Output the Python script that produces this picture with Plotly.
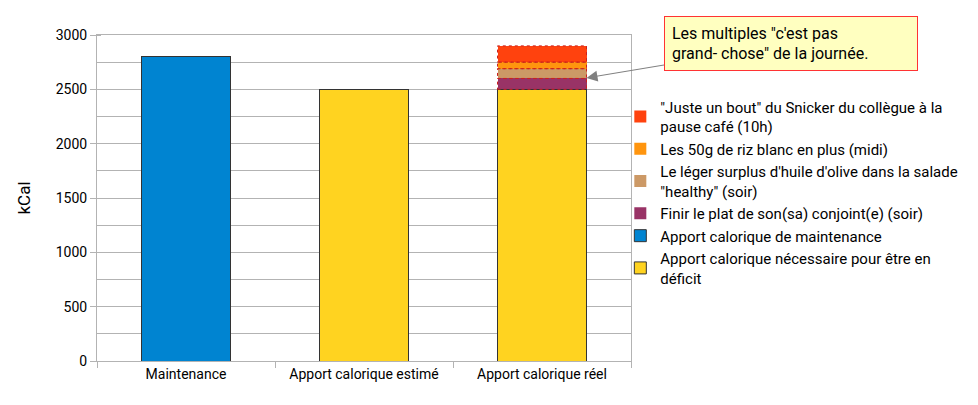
import plotly.graph_objects as go

categories = ['Maintenance', 'Apport calorique estimé', 'Apport calorique réel']

maintenance = [2800, None, None]
deficit = [None, 2500, 2500]

# petits extras de la journée (seulement sur "réel")
extras_names = [
    'Finir le plat de son(sa) conjoint(e) (soir)',
    'Le léger surplus d\'huile d\'olive dans la salade<br>"healthy" (soir)',
    'Les 50g de riz blanc en plus (midi)',
    '"Juste un bout" du Snicker du collègue à la<br>pause café (10h)',
]
extras_values = [100, 90, 60, 150]
extras_colors = ['#993366', '#cc9966', '#ff950e', '#ff420e']

font = 'Roboto'

fig = go.Figure()
fig.add_trace(go.Bar(x=categories, y=deficit,
                     name='Apport calorique nécessaire pour être en<br>déficit',
                     marker=dict(color='#ffd320', line=dict(color='#333333', width=1))))
fig.add_trace(go.Bar(x=categories, y=maintenance,
                     name='Apport calorique de maintenance',
                     marker=dict(color='#0084d1', line=dict(color='#333333', width=1))))

base = deficit[2]
for name, val, col in zip(extras_names, extras_values, extras_colors):
    fig.add_trace(go.Bar(x=[categories[2]], y=[val], name=name,
                         marker=dict(color=col, line=dict(color='#c9211e', width=0))))
    # contour pointillé
    fig.add_shape(type='rect', xref='x', yref='y', x0=2 - 0.25, x1=2 + 0.25,
                  y0=base, y1=base + val,
                  line=dict(color='#c9211e', width=1, dash='dot'))
    base += val

fig.add_annotation(x=2.25, y=2605, xref='x', yref='y',
                   text='Les multiples "c\'est pas<br>grand- chose" de la journée.',
                   showarrow=True, ax=204, ay=-34,
                   arrowhead=2, arrowsize=2.2, arrowwidth=1, arrowcolor='#808080',
                   align='left', width=238, height=39, borderpad=7,
                   bgcolor='#ffffc0', bordercolor='#ff3333', borderwidth=1,
                   font=dict(family=font, size=16, color='#000000'))

fig.update_layout(
    width=978, height=405,
    barmode='stack', bargap=0.5,
    plot_bgcolor='white', paper_bgcolor='white',
    font=dict(family=font, size=14, color='#000000'),
    margin=dict(l=89, r=355, t=27, b=52, autoexpand=False),
    legend=dict(traceorder='reversed', x=0.98, y=0.83, xanchor='left', yanchor='top',
                bgcolor='rgba(0,0,0,0)', font=dict(size=15), itemwidth=30, tracegroupgap=0),
    showlegend=True,
)
fig.update_xaxes(range=[-0.5, 2.5], tickangle=0, showline=True, linecolor='#b3b3b3', mirror=True,
                 ticks='outside', tickson='boundaries', tickcolor='#b3b3b3', ticklen=6,
                 automargin=False)
fig.update_yaxes(range=[0, 3000], dtick=500, showgrid=True, gridcolor='#b3b3b3',
                 showline=True, linecolor='#b3b3b3', mirror=True,
                 ticks='outside', tickcolor='#b3b3b3', ticklen=6,
                 minor=dict(dtick=250, showgrid=True, gridcolor='#b3b3b3', ticks='inside', ticklen=4, tickcolor='#b3b3b3'),
                 title=dict(text='kCal', standoff=20), zeroline=False, automargin=False)

fig.write_html('out.html')
